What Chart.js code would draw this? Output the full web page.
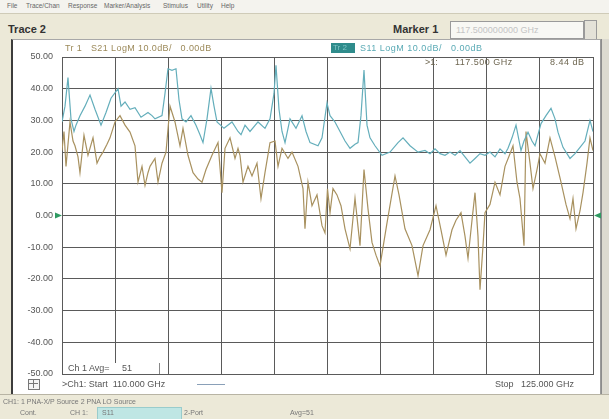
<!DOCTYPE html>
<html>
<head>
<meta charset="utf-8">
<script src="https://cdn.jsdelivr.net/npm/chart.js@4/dist/chart.umd.min.js"></script>
<style>
  html, body { margin: 0; padding: 0; }
  body { width: 609px; height: 419px; overflow: hidden; position: relative;
         background: #ece9d8; font-family: "Liberation Sans", Arial, sans-serif; }
  .abs { position: absolute; white-space: pre; line-height: 1; }
  #menu { left: 0; top: 0; width: 609px; height: 13px; background: #f4f3ee;
          border-bottom: 1px solid #cfcbb8; }
  #menu span { position: absolute; top: 3px; font-size: 6.5px; color: #666; }
  #panel { left: 11px; top: 39px; width: 587px; height: 354px; background: #fff;
           border-left: 2px solid #3c3c3c; border-top: 1px solid #a8a8a8; border-right: 1px solid #9a9a9a; }
  #rbar { left: 601px; top: 39px; width: 8px; height: 355px; background: #dcdad0; border-left: 1px solid #8c8c8c; }
  #chart { position: absolute; left: 0; top: 0; z-index: 2; }
  .top { z-index: 3; }
  #mkbox { left: 450px; top: 21px; width: 132px; height: 16px; background: #f8f8f4;
           border: 1px solid #9a9a9a; font-size: 9px; color: #c4c4c4; }
  #spin { left: 584px; top: 20px; width: 11px; height: 18px; background: #e4e2d8; border: 1px solid #9a9a9a; }
  #status { left: 0; top: 394px; width: 609px; height: 25px; background: #ece9d8; border-top: 1px solid #b8b4a4; }
</style>
</head>
<body>
<div id="menu" class="abs">
  <span style="left:7px">File</span>
  <span style="left:26px">Trace/Chan</span>
  <span style="left:68px">Response</span>
  <span style="left:104px">Marker/Analysis</span>
  <span style="left:163px">Stimulus</span>
  <span style="left:197px">Utility</span>
  <span style="left:221px">Help</span>
</div>
<div class="abs" style="left:8px;top:24px;font-size:11px;font-weight:bold;color:#333">Trace 2</div>
<div class="abs" style="left:393px;top:24px;font-size:11px;font-weight:bold;color:#333">Marker 1</div>
<div id="mkbox" class="abs"><span style="position:absolute;left:5px;top:4px">117.500000000 GHz</span></div>
<div id="spin" class="abs"></div>
<div id="panel" class="abs"></div>
<div id="rbar" class="abs"></div>
<div id="status" class="abs"></div>

<canvas id="chart" width="609" height="419"></canvas>

<!-- trace and marker annotations -->
<div class="abs top" style="left:65px;top:44px;font-size:9px;color:#9c8a5a;letter-spacing:0.4px">Tr 1   S21 LogM 10.0dB/   0.00dB</div>
<div class="abs top" style="left:331px;top:43px;width:24px;height:10px;background:#2f8c8c"></div>
<div class="abs top" style="left:333px;top:44px;font-size:8px;color:#7fc6c6">Tr 2</div>
<div class="abs top" style="left:360px;top:44px;font-size:9px;color:#5aaab5;letter-spacing:0.5px">S11 LogM 10.0dB/   0.00dB</div>
<div class="abs top" style="left:425px;top:58px;font-size:9px;color:#6e6650">&gt;1:</div>
<div class="abs top" style="left:455px;top:58px;font-size:9px;color:#6e6650;letter-spacing:0.5px">117.500 GHz</div>
<div class="abs top" style="left:550px;top:58px;font-size:9px;color:#6e6650;letter-spacing:0.5px">8.44 dB</div>

<div class="abs top" style="left:63px;top:363px;width:96px;height:11px;background:#fff;border-right:1px solid #888"></div>
<div class="abs top" style="left:68px;top:364px;font-size:9px;color:#555">Ch 1 Avg=     51</div>

<div class="abs top" style="left:28px;top:379px;width:10px;height:9px;border:1px solid #777;background:#f4f4f4"></div>
<div class="abs top" style="left:33px;top:379px;width:1px;height:9px;background:#777"></div>
<div class="abs top" style="left:28px;top:383px;width:10px;height:1px;background:#777"></div>
<div class="abs top" style="left:62px;top:380px;font-size:9px;color:#555">&gt;Ch1: Start  110.000 GHz</div>
<div class="abs top" style="left:197px;top:384px;width:28px;height:1px;background:#8aa0b8"></div>
<div class="abs top" style="left:495px;top:380px;font-size:9px;color:#555">Stop   125.000 GHz</div>

<div class="abs top" style="left:3px;top:398px;font-size:7px;color:#777">CH1: 1 PNA-X/P Source 2 PNA LO Source</div>
<div class="abs top" style="left:20px;top:409px;font-size:7px;color:#777">Cont.</div>
<div class="abs top" style="left:70px;top:409px;font-size:7px;color:#777">CH 1:</div>
<div class="abs top" style="left:97px;top:407px;width:83px;height:11px;background:#bfe6e4;border:1px solid #9cc"></div>
<div class="abs top" style="left:102px;top:409px;font-size:7px;color:#777">S11</div>
<div class="abs top" style="left:184px;top:409px;font-size:7px;color:#777">2-Port</div>
<div class="abs top" style="left:290px;top:409px;font-size:7px;color:#777">Avg=51</div>

<script>
// S11 sweep (GHz) and magnitude (dB)
const s11Freq = [
  110.000, 110.085, 110.169, 110.254, 110.339, 110.395, 110.508, 110.650, 110.791, 110.932,
  111.102, 111.243, 111.384, 111.582, 111.667, 111.780, 111.921, 112.062, 112.232, 112.429,
  112.542, 112.627, 112.825, 112.910, 112.994, 113.107, 113.220, 113.305, 113.390, 113.503,
  113.644, 113.785, 113.898, 113.983, 114.096, 114.209, 114.294, 114.379, 114.576, 114.802,
  114.972, 115.057, 115.170, 115.311, 115.537, 115.734, 115.876, 115.989, 116.045, 116.130,
  116.215, 116.300, 116.441, 116.610, 116.780, 116.893, 117.006, 117.232, 117.345, 117.486,
  117.571, 117.712, 117.853, 117.995, 118.136, 118.277, 118.362, 118.446, 118.531, 118.616,
  118.701, 118.842, 119.040, 119.266, 119.492, 119.633, 119.831, 120.057, 120.254, 120.396,
  120.537, 120.678, 120.819, 120.960, 121.102, 121.243, 121.384, 121.525, 121.667, 121.808,
  121.949, 122.090, 122.232, 122.373, 122.514, 122.599, 122.712, 122.825, 122.966, 123.051,
  123.164, 123.277, 123.362, 123.446, 123.531, 123.672, 123.814, 123.927, 124.011, 124.153,
  124.350, 124.492, 124.633, 124.774, 124.915, 125.000
];
const s11dB = [
  29.5, 34.5, 43.5, 30.5, 26.5, 28.5, 31.5, 34.5, 38.0, 33.5,
  28.5, 32.5, 37.0, 40.0, 34.5, 35.8, 33.5, 34.0, 31.0, 32.5,
  31.5, 30.5, 31.5, 38.5, 46.3, 45.8, 46.3, 36.5, 30.5, 29.5,
  31.5, 28.5, 25.5, 23.0, 30.5, 40.1, 34.5, 29.5, 27.5, 29.5,
  26.5, 25.5, 28.5, 26.5, 29.5, 27.5, 30.5, 38.5, 47.4, 33.5,
  26.5, 23.0, 30.5, 27.5, 31.5, 26.5, 23.0, 22.0, 24.5, 35.5,
  31.5, 29.5, 26.5, 23.5, 21.2, 22.5, 23.0, 31.5, 45.9, 28.5,
  24.5, 22.0, 19.0, 20.0, 23.0, 24.5, 22.0, 20.0, 20.5, 19.5,
  21.0, 19.5, 19.0, 20.0, 19.0, 20.5, 18.5, 16.5, 18.0, 19.5,
  19.0, 20.0, 18.5, 21.0, 19.5, 21.2, 24.5, 28.5, 20.5, 23.5,
  26.3, 23.5, 22.0, 25.5, 29.0, 31.5, 33.8, 30.5, 26.3, 21.5,
  18.0, 19.5, 21.5, 23.5, 30.0, 26.5
];

// S21 sweep (GHz) and magnitude (dB)
const s21Freq = [
  110.000, 110.056, 110.113, 110.226, 110.311, 110.367, 110.452, 110.508, 110.621, 110.734,
  110.876, 110.989, 111.073, 111.158, 111.271, 111.356, 111.497, 111.638, 111.780, 111.921,
  112.062, 112.147, 112.260, 112.345, 112.429, 112.486, 112.627, 112.712, 112.825, 112.938,
  113.051, 113.192, 113.333, 113.418, 113.559, 113.701, 113.842, 113.955, 114.068, 114.237,
  114.407, 114.520, 114.605, 114.746, 114.887, 114.972, 115.028, 115.113, 115.254, 115.367,
  115.508, 115.621, 115.734, 115.876, 116.017, 116.102, 116.215, 116.384, 116.497, 116.667,
  116.808, 116.864, 116.949, 117.062, 117.203, 117.345, 117.429, 117.500, 117.571, 117.655,
  117.768, 117.881, 117.995, 118.136, 118.277, 118.418, 118.531, 118.644, 118.757, 118.870,
  118.983, 119.181, 119.407, 119.520, 119.689, 119.887, 120.057, 120.198, 120.396, 120.565,
  120.706, 120.848, 121.017, 121.130, 121.271, 121.384, 121.469, 121.582, 121.667, 121.751,
  121.808, 121.893, 121.949, 122.090, 122.232, 122.373, 122.514, 122.655, 122.740, 122.853,
  122.938, 123.051, 123.107, 123.220, 123.305, 123.418, 123.503, 123.644, 123.785, 123.927,
  124.096, 124.237, 124.350, 124.435, 124.520, 124.633, 124.718, 124.831, 124.915, 125.000
];
const s21dB = [
  20.5, 26.5, 15.5, 29.5, 23.5, 22.0, 18.5, 13.5, 25.3, 19.0,
  24.5, 16.5, 18.5, 20.0, 22.5, 24.5, 29.5, 31.5, 28.5, 26.3,
  22.0, 10.5, 15.5, 9.5, 13.5, 15.5, 18.0, 10.5, 16.5, 20.0,
  34.5, 29.5, 22.0, 27.5, 19.0, 13.5, 11.5, 10.5, 14.5, 19.0,
  23.0, 7.2, 21.2, 24.5, 18.0, 21.2, 19.0, 10.5, 15.5, 12.5,
  16.5, 5.3, 13.5, 23.0, 23.5, 15.5, 21.2, 18.0, 20.0, 15.5,
  8.5, -4.2, 10.5, 3.1, 6.5, -3.2, -5.5, 8.44, 0.9, 8.5,
  6.5, 3.1, -4.2, -10.5, 5.5, -9.5, 14.5, 2.1, -8.5, -12.5,
  -15.9, -2.3, 12.5, 6.5, -4.2, -9.5, -19.0, -9.5, -4.5, 3.1,
  -4.5, -12.5, -4.5, -1.5, 0.9, -6.5, -13.5, -1.5, 7.2, -6.5,
  -23.4, -9.5, 0.9, 3.5, 10.5, 6.5, 15.5, 19.5, 22.0, 10.5,
  5.3, -9.5, 26.5, 16.5, 8.5, 14.5, 19.5, 16.5, 24.5, 18.5,
  10.5, 3.5, -1.0, 5.3, -4.2, 1.5, 7.2, 16.5, 24.5, 20.5
];

// graticule: 10 frequency divisions, 10 dB per division
const freqGrid = [110, 111.5, 113, 114.5, 116, 117.5, 119, 120.5, 122, 123.5, 125];
const dbGrid = [50, 40, 30, 20, 10, 0, -10, -20, -30, -40, -50];

const toPoints = (xs, ys) => xs.map((x, i) => ({ x: x, y: ys[i] }));

// green reference-level arrows at 0 dB on both sides of the graticule
const refArrows = {
  id: 'refArrows',
  afterDraw(chart) {
    const { ctx, chartArea, scales } = chart;
    const y = scales.y.getPixelForValue(0);
    ctx.save();
    ctx.fillStyle = '#2f9a62';
    ctx.beginPath();
    ctx.moveTo(chartArea.left - 7, y - 3);
    ctx.lineTo(chartArea.left, y);
    ctx.lineTo(chartArea.left - 7, y + 3);
    ctx.closePath();
    ctx.fill();
    ctx.beginPath();
    ctx.moveTo(chartArea.right + 8, y - 3);
    ctx.lineTo(chartArea.right + 1, y);
    ctx.lineTo(chartArea.right + 8, y + 3);
    ctx.closePath();
    ctx.fill();
    ctx.restore();
  }
};

new Chart(document.getElementById('chart'), {
  type: 'line',
  data: {
    datasets: [
      { label: 'S11', data: toPoints(s11Freq, s11dB), borderColor: '#64aebb', borderWidth: 1.2 },
      { label: 'S21', data: toPoints(s21Freq, s21dB), borderColor: '#a8915f', borderWidth: 1.2 }
    ]
  },
  options: {
    responsive: false,
    animation: false,
    devicePixelRatio: 1,
    parsing: false,
    elements: { point: { radius: 0 }, line: { tension: 0 } },
    layout: { padding: { left: 13, top: 57, right: 16, bottom: 45 } },
    plugins: { legend: { display: false }, tooltip: { enabled: false } },
    scales: {
      x: {
        type: 'linear', min: 110, max: 125,
        afterBuildTicks: (s) => { s.ticks = freqGrid.map(v => ({ value: v })); },
        afterFit: (s) => { s.height = 0; },
        ticks: { display: false },
        grid: { color: '#5a5a5a', lineWidth: 1, drawTicks: false },
        border: { display: true, color: '#5a5a5a' }
      },
      y: {
        type: 'linear', min: -50, max: 50,
        afterBuildTicks: (s) => { s.ticks = dbGrid.map(v => ({ value: v })); },
        afterFit: (s) => { s.width = 49; },
        ticks: {
          padding: 9,
          color: '#555',
          font: { family: 'Liberation Sans', size: 9 },
          callback: (v) => Number(v).toFixed(2)
        },
        grid: { color: '#5a5a5a', lineWidth: 1, drawTicks: false },
        border: { display: true, color: '#5a5a5a' }
      }
    }
  },
  plugins: [refArrows]
});
</script>
</body>
</html>
